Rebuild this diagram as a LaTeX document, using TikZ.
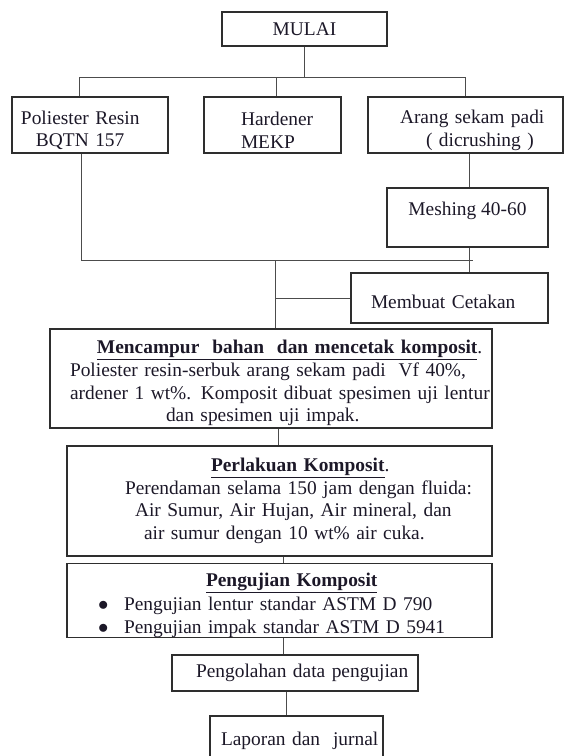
\documentclass[tikz,border=0pt]{standalone}
\usepackage{fontspec}
\setmainfont{Liberation Serif}
\usepackage{xcolor}
\definecolor{cBox}{HTML}{2E2E2E}
\definecolor{cLine}{HTML}{4C4C4C}
\definecolor{cTxt}{HTML}{1C1828}
\tikzset{
  box/.style={draw=cBox, line width=1.1pt, rectangle, inner sep=0pt, text=cTxt, font=\fontsize{19.4}{22.7}\selectfont},
  lbox/.style={box, align=left},
  link/.style={draw=cLine, line width=1pt},
}
\newcommand{\ttl}[1]{\underline{\textbf{#1}}}
\newcommand{\itm}{\hspace*{31pt}\makebox[26pt][l]{$\bullet$}}

\begin{document}
\begin{tikzpicture}[x=1pt, y=-1pt]
\useasboundingbox (0,0) rectangle (564,756);
\node[box, minimum width=165pt, minimum height=34pt] (mulai) at (304.5,29) {MULAI};
\node[lbox, text width=156pt, minimum height=56pt, text height=24pt] (poli) at (90,125) {\hspace*{9pt}Poliester Resin\\\hspace*{24pt}BQTN 157};
\node[lbox, text width=137pt, minimum height=56pt, text height=24pt] (hard) at (272.5,125) {\hspace*{37pt}Hardener\\\hspace*{37pt}MEKP};
\node[lbox, text width=195pt, minimum height=56pt, text height=24pt] (arang) at (465.5,125) {\hspace*{32pt}Arang sekam padi\\\hspace*{58pt}( dicrushing )};
\node[box, minimum width=161pt, minimum height=59pt, text depth=18pt] (mesh) at (467.5,217.5) {Meshing 40-60};
\node[lbox, text width=197pt, minimum height=50pt, text height=21.5pt] (cetak) at (449.5,298) {\hspace*{20pt}Membuat Cetakan};
\node[lbox, text width=442pt, minimum height=99pt, text height=22.5pt] (campur) at (271,378.5) {%
\hspace*{47pt}\mbox{\ttl{Mencampur\ \ bahan\ \ dan mencetak komposit}.}\\
\hspace*{20pt}\mbox{Poliester resin-serbuk arang sekam padi\ \ Vf 40\%,}\\
\hspace*{20pt}\mbox{ardener 1 wt\%. Komposit dibuat spesimen uji lentur}\\
\hspace*{116pt}dan spesimen uji impak.};
\node[lbox, text width=425pt, minimum height=110pt] (lakuan) at (279.5,501) {%
\hspace*{144pt}\ttl{Perlakuan Komposit}.\\
\hspace*{58pt}\mbox{Perendaman selama 150 jam dengan fluida:}\\
\hspace*{68pt}\mbox{Air Sumur, Air Hujan, Air mineral, dan}\\
\hspace*{77pt}\mbox{air sumur dengan 10 wt\% air cuka.}};
\node[lbox, text width=425pt, minimum height=73pt, text height=23pt] (uji) at (279.5,600.5) {%
\hspace*{139pt}\ttl{Pengujian Komposit}\\[1pt]
\itm\mbox{Pengujian lentur standar ASTM D 790}\\[0.5pt]
\itm\mbox{Pengujian impak standar ASTM D 5941}};
\node[lbox, text width=246pt, minimum height=36pt] (olah) at (295,673) {\hspace*{24pt}Pengolahan data pengujian};
\node[lbox, text width=173pt, minimum height=49pt] (lapor) at (296.5,740.5) {\hspace*{11pt}Laporan dan\ \ jurnal};

\coordinate (bus) at (0,77);
\coordinate (pcol) at (79,0);
\coordinate (hcol) at (276,0);
\coordinate (acol) at (469,0);
\coordinate (qcol) at (81,0);
\coordinate (merge) at (473,260);
\coordinate (mcol) at (275,260);
\coordinate (c2) at (278,0);
\coordinate (c3) at (283,0);
\coordinate (c4) at (286,0);

\draw[link] (mulai.south) -- (mulai.south |- bus);
\draw[link] (poli.north -| pcol) -- (bus -| pcol) -- (arang.north |- bus) -- (arang.north);
\draw[link] (hard.north -| hcol) -- (bus -| hcol);
\draw[link] (arang.south -| acol) -- (mesh.north -| acol);
\draw[link] (mesh.south -| acol) -- (cetak.north -| acol);
\draw[link] (poli.south -| qcol) |- (merge);
\draw[link] (mcol) -- (campur.north -| mcol);
\draw[link] (cetak.west -| mcol) -- (cetak.west);
\draw[link] (campur.south -| c2) -- (lakuan.north -| c2);
\draw[link] (lakuan.south -| c3) -- (uji.north -| c3);
\draw[link] (uji.south -| c3) -- (olah.north -| c3);
\draw[link] (olah.south -| c4) -- (lapor.north -| c4);
\end{tikzpicture}
\end{document}
